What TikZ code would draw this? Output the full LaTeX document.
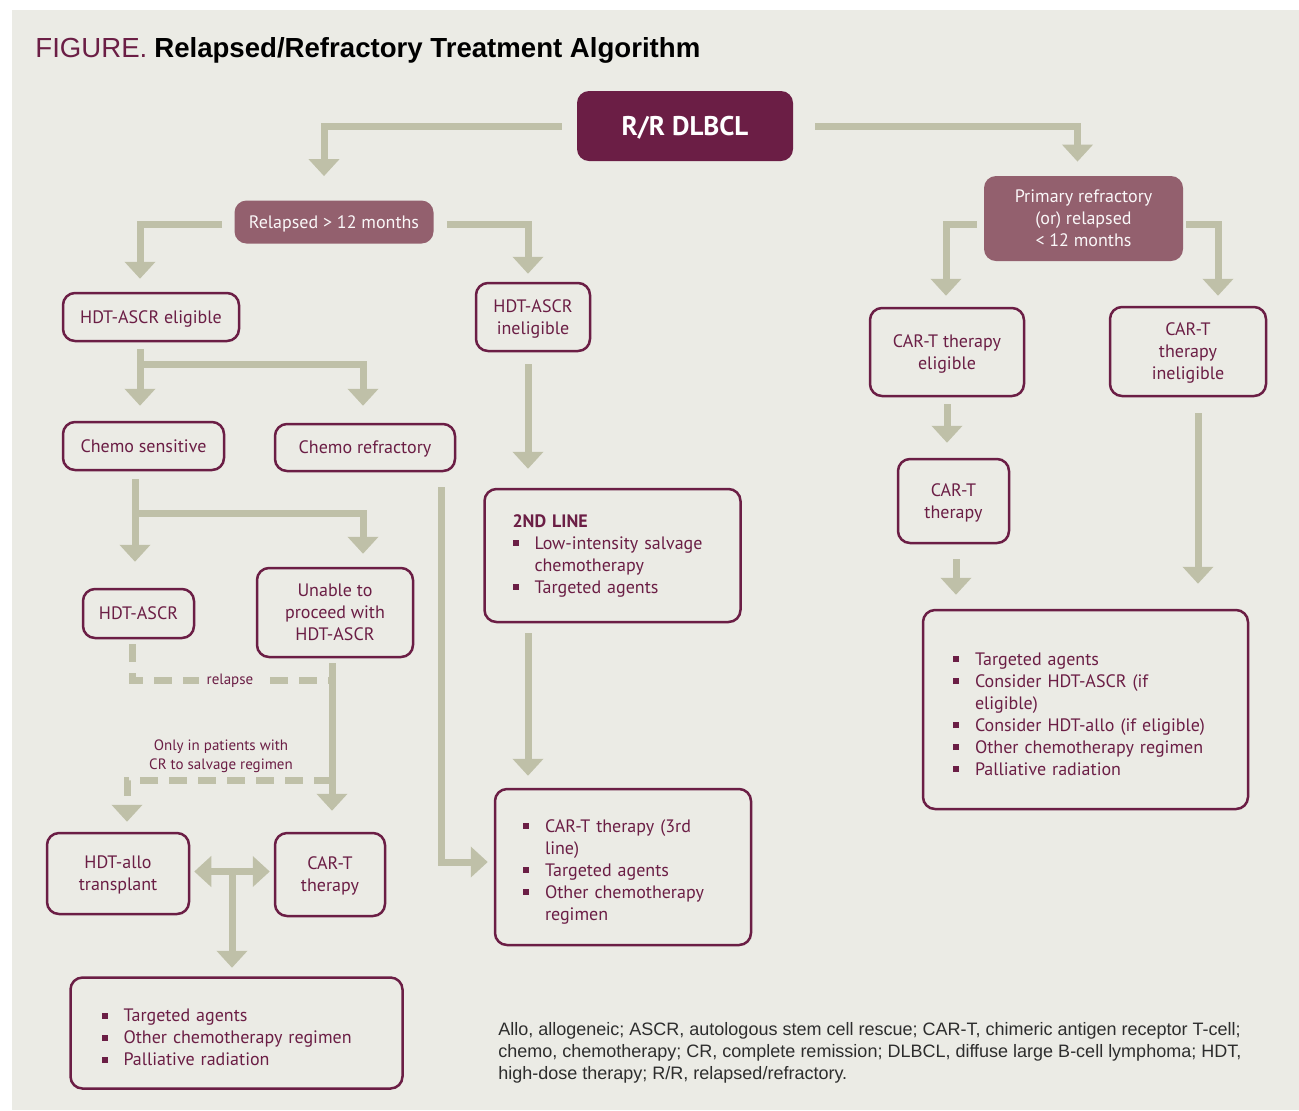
\documentclass[tikz,border=0pt]{standalone}
\usepackage{fontspec}
\setmainfont{PT Sans}
\newfontfamily\headfont{Liberation Sans}
\usepackage{tikz}
\usetikzlibrary{arrows.meta,calc,positioning}
\definecolor{panelbg}{RGB}{235,235,229}
\definecolor{wine}{RGB}{107,30,69}
\definecolor{mauve}{RGB}{147,96,110}
\definecolor{olivegray}{RGB}{191,192,168}
\definecolor{notegray}{RGB}{45,45,45}
\newcommand{\bitem}{\par\noindent\makebox[11pt][l]{\rule[1.6pt]{3pt}{3pt}}}
\newcommand{\bcont}{\\\hspace*{11pt}}

\begin{document}
\begin{tikzpicture}[
		x=0.5pt, y=-0.5pt,
		font=\fontsize{9}{11}\selectfont,
		rrbox/.style={fill=wine, text=white, rounded corners=6pt, inner sep=0pt, text depth=0pt,
			font=\fontsize{13.5}{16}\selectfont\bfseries},
		catbox/.style={fill=mauve, text=white!95!mauve, rounded corners=6pt, inner sep=0pt, text depth=0pt, align=center},
		stepbox/.style={draw=wine, line width=1.25pt, text=wine, rounded corners=6pt, inner sep=0pt, text depth=0pt, align=center},
		listbox/.style={draw=wine, line width=1.25pt, text=wine, rounded corners=6pt, inner ysep=0pt, align=left},
		flow/.style={draw=olivegray, line width=3.5pt, -{Triangle[width=15pt,length=8.5pt]}},
		dflow/.style={flow, dash pattern=on 9pt off 5.5pt},
		small/.style={text=wine, font=\fontsize{7.5}{9.5}\selectfont, inner sep=1pt}]
		% panel
		\useasboundingbox (0,0) rectangle (1299,1110);
		\fill[white] (0,0) rectangle (1299,1110);
		\fill[panelbg] (12,10) rectangle (1299,1110);
		
		% title
		\node[anchor=base west, inner sep=0pt, font=\headfont\fontsize{13.8}{16}\selectfont] (title) at (35,57)
		{\textcolor{wine}{FIGURE.}\hspace{3.5pt}\textbf{Relapsed/Refractory Treatment Algorithm}};
		
		% top levels
		\node[rrbox, minimum width=108pt, minimum height=35pt] (rr) at (685,126) {R/R DLBCL};
		\node[catbox, minimum width=99.5pt, minimum height=21.5pt] (relapsed) at (334,222) {Relapsed > 12 months};
		\node[catbox, minimum width=99.5pt, minimum height=42.5pt] (refr) at (1083.5,218.5)
		{Primary refractory\\(or) relapsed\\< 12 months};
		
		% left branch
		\node[stepbox, minimum width=88pt, minimum height=24pt] (elig) at (151,317) {HDT-ASCR eligible};
		\node[stepbox, minimum width=57pt, minimum height=34pt] (inelig) at (533,317) {HDT-ASCR\\ineligible};
		\node[stepbox, minimum width=80.5pt, minimum height=24pt] (chemosens) at (143.5,446) {Chemo sensitive};
		\node[stepbox, minimum width=90pt, minimum height=23.5pt] (chemoref) at (365,447.5) {Chemo refractory};
		\node[stepbox, minimum width=55.5pt, minimum height=24.5pt] (hdtascr) at (138.5,613.5) {HDT-ASCR};
		\node[stepbox, minimum width=78pt, minimum height=44.5pt] (unable) at (335,612.5) {Unable to\\proceed with\\HDT-ASCR};
		\node[stepbox, minimum width=71pt, minimum height=40.5pt] (allo) at (118,873.5) {HDT-allo\\transplant};
		\node[stepbox, minimum width=55pt, minimum height=41.5pt] (cartb) at (330,874.5) {CAR-T\\therapy};
		\node[listbox, text width=135pt, inner xsep=15.5pt, minimum height=55.5pt] (llist) at (236.5,1033)
		{\bitem Targeted agents\bitem Other chemotherapy regimen\bitem Palliative radiation};
		\node[listbox, text width=100pt, inner xsep=14pt, minimum height=66.5pt] (second) at (612.5,555.5)
		{\noindent\textbf{2ND LINE}\bitem Low-intensity salvage\bcont chemotherapy\bitem Targeted agents};
		\node[listbox, text width=100pt, inner xsep=14pt, minimum height=78pt] (third) at (623,867)
		{\bitem CAR-T therapy (3rd\bcont line)\bitem Targeted agents\bitem Other chemotherapy\bcont regimen};
		
		% right branch
		\node[stepbox, minimum width=77pt, minimum height=44pt] (cartelig) at (947,352) {CAR-T therapy\\eligible};
		\node[stepbox, minimum width=78pt, minimum height=44.5pt] (cartinelig) at (1188,351.5) {CAR-T\\therapy\\ineligible};
		\node[stepbox, minimum width=55.5pt, minimum height=42pt] (cartt) at (953.5,501) {CAR-T\\therapy};
		\node[listbox, text width=132.5pt, inner xsep=15pt, minimum height=99.5pt] (rlist) at (1085.5,709.5)
		{\bitem Targeted agents\bitem Consider HDT-ASCR (if\bcont eligible)\bitem Consider HDT-allo (if eligible)\bitem Other chemotherapy regimen\bitem Palliative radiation};
		
		% arrows
		\draw[flow] ($(rr.west)+(-15,0)$) -| ($(relapsed.north)+(-10,-24)$);
		\draw[flow] ($(rr.east)+(22,0)$) -| ($(refr.north)+(-6,-14)$);
		\draw[flow] ($(relapsed.west)+(-12,2)$) -| ($(elig.north)+(-11,-13)$);
		\draw[flow] ($(relapsed.east)+(13,2)$) -| ($(inelig.north)+(-5,-8)$);
		\draw[flow] ($(refr.west)+(-7,6)$) -| ($(cartelig.north)+(-1,-11)$);
		\draw[flow] ($(refr.east)+(3,6)$) -| ($(cartinelig.north)+(30,-10)$);
		\draw[flow] ($(elig.south)+(-11,7)$) -- ($(chemosens.north)+(-3.5,-15)$);
		\draw[flow] ($(elig.south)+(-11,22)$) -| ($(chemoref.north)+(-2,-17)$);
		\draw[flow] ($(chemosens.south)+(-8.5,8)$) -- ($(hdtascr.north)+(-3.5,-26)$);
		\draw[flow] ($(chemosens.south)+(-8.5,42)$) -| ($(unable.north)+(28,-13)$);
		\draw[flow] ($(inelig.south)+(-5,12)$) -- ($(second.north)+(-84.5,-19)$);
		\draw[flow] ($(second.south)+(-84.5,10)$) -- ($(third.north)+(-95,-12)$);
		\draw[flow] ($(chemoref.south)+(76,15)$) |- ($(third.west)+(-6,-5)$);
		\draw[flow] ($(cartelig.south)+(0,7)$) -- ($(cartt.north)+(-6.5,-15)$);
		\draw[flow] ($(cartt.south)+(2.5,15)$) -- ($(rlist.north)+(-129.5,-14)$);
		\draw[flow] ($(cartinelig.south)+(10,16)$) -- ($(rlist.north)+(112.5,-25)$);
		\draw[flow] ($(unable.south)+(-3,5)$) -- ($(cartb.north)+(2,-21)$);
		\draw[dflow, -] ($(hdtascr.south)+(-6.5,5)$) |- ($(unable.south)+(-3,22)$)
		node[small, fill=panelbg, inner xsep=4pt, pos=0.745] (relapse) {relapse};
		\draw[dflow] ($(unable.south)+(-3,122)$) -| ($(allo.north)+(9,-10)$);
		\node[small, align=center] (onlycr) at (221,756) {Only in patients with\\CR to salvage regimen};
		\draw[flow, {Triangle[width=15pt,length=8.5pt]}-{Triangle[width=15pt,length=8.5pt]}]
		($(allo.east)+(4,-2)$) -- ($(cartb.west)+(-4,-3)$);
		\draw[flow] ($(allo.east)!0.5!(cartb.west)+(0,-3)$) -- ($(llist.north)+(-4.5,-8.5)$);
		
		% footnote
		\node[anchor=west, align=left, inner sep=0pt, text=notegray, font=\headfont\fontsize{9}{11}\selectfont] (abbr) at (498,1053)
		{Allo, allogeneic; ASCR, autologous stem cell rescue; CAR-T, chimeric antigen receptor T-cell;\\
			chemo, chemotherapy; CR, complete remission; DLBCL, diffuse large B-cell lymphoma; HDT,\\
			high-dose therapy; R/R, relapsed/refractory.};
		
\end{tikzpicture}
\end{document}
